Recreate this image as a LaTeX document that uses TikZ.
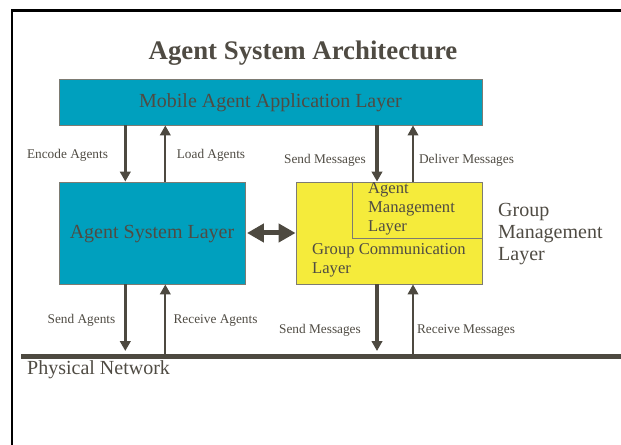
\documentclass[tikz,border=0pt]{standalone}
\usepackage{fontspec}
\setmainfont{Liberation Serif}
\usetikzlibrary{arrows.meta,calc}
\definecolor{txt}{HTML}{4F4B43}
\definecolor{arr}{HTML}{4D4940}
\definecolor{tealbox}{HTML}{00A0BE}
\definecolor{ylw}{HTML}{F5EB3B}
\definecolor{bord}{HTML}{7D7B72}
\tikzset{
  layer/.style={draw=bord, line width=0.9bp, inner sep=0pt, text=txt,
    text height=14bp, text depth=2bp,
    font=\fontsize{20bp}{22bp}\selectfont},
  lbl/.style={text=txt, inner sep=0pt, font=\fontsize{13.3bp}{15bp}\selectfont},
  sub/.style={text=txt, inner sep=0pt, align=left, font=\fontsize{16.6bp}{19bp}\selectfont},
  big/.style={text=txt, inner sep=0pt, align=left, font=\fontsize{20bp}{22bp}\selectfont},
  dn/.style={draw=arr, line width=3.5bp, -{Triangle[length=10bp,width=10.5bp]}},
  upa/.style={draw=arr, line width=2.3bp, -{Triangle[length=10bp,width=10.5bp]}},
  dbl/.style={draw=arr, line width=5bp, {Triangle[length=17bp,width=18bp]}-{Triangle[length=17bp,width=18bp]}},
}
\begin{document}
\begin{tikzpicture}[x=1bp,y=-1bp]
\useasboundingbox (0,0) rectangle (621,445);
% frame
\draw[line width=2.2bp, black] (12,460) -- (12,10.5) -- (640,10.5);
% title
\node[text=txt, inner sep=0pt, anchor=base, font=\fontsize{26.8bp}{30bp}\selectfont\bfseries] (title) at (303,60) {Agent System Architecture};
% boxes
\node[layer, fill=tealbox, minimum width=423bp, minimum height=46bp] (app) at (270.5,102) {Mobile Agent Application Layer};
\node[layer, fill=tealbox, minimum width=186bp, minimum height=102bp] (asl) at (152,233) {Agent System Layer};
\node[layer, fill=ylw, minimum width=186bp, minimum height=102bp] (gcl) at (389,233) {};
\coordinate (amc) at (352,238);
\draw[draw=bord, line width=0.9bp] (gcl.north -| amc) -- (amc) -- (gcl.east |- amc);
\node[sub, anchor=base west] (am) at (368,232) {Agent\\Management\\Layer};
\node[sub, anchor=base west] (gc) at (312,274) {Group Communication\\Layer};
\node[big, anchor=base west, font=\fontsize{20bp}{22.2bp}\selectfont] (gm) at (498,261) {Group\\Management\\Layer};
% network
\coordinate (netL) at (21,356.5);
\coordinate (netR) at (640,356.5);
\draw[draw=arr, line width=5bp] (netL) -- (netR);
\node[big, anchor=base west] (pn) at (27,374) {Physical Network};
% x positions
\coordinate (xa) at (125.3,0);
\coordinate (xb) at (165.3,0);
\coordinate (xc) at (377,0);
\coordinate (xd) at (413,0);
% arrows upper
\draw[dn] (app.south -| xa) -- (asl.north -| xa);
\draw[upa] (asl.north -| xb) -- (app.south -| xb);
\draw[dn] (app.south -| xc) -- (gcl.north -| xc);
\draw[upa] (gcl.north -| xd) -- (app.south -| xd);
% arrows lower
\draw[dn, shorten >=5.5bp] (asl.south -| xa) -- (netL -| xa);
\draw[upa] (netL -| xb) -- (asl.south -| xb);
\draw[dn, shorten >=5.5bp] (gcl.south -| xc) -- (netL -| xc);
\draw[upa] (netL -| xd) -- (gcl.south -| xd);
% double arrow
\draw[dbl, shorten <=1.5bp] (asl.east) -- (gcl.west);
% labels
\node[lbl, anchor=base] (lenc) at (67.5,159) {Encode Agents};
\node[lbl, anchor=base] (lload) at (211,159) {Load Agents};
\node[lbl, anchor=base] (lsm1) at (325,164) {Send Messages};
\node[lbl, anchor=base] (ldm) at (466.5,164) {Deliver Messages};
\node[lbl, anchor=base] (lsa) at (81.5,323) {Send Agents};
\node[lbl, anchor=base] (lra) at (215.5,323) {Receive Agents};
\node[lbl, anchor=base] (lsm2) at (320,333) {Send Messages};
\node[lbl, anchor=base] (lrm) at (466,333) {Receive Messages};
\end{tikzpicture}
\end{document}
